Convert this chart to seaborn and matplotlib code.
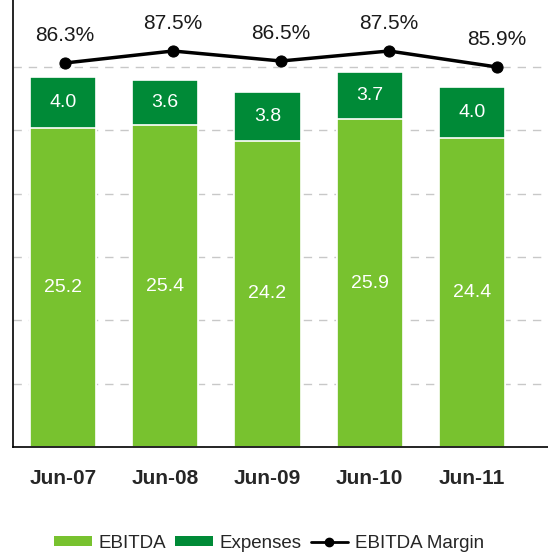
import numpy as np
import pandas as pd
import matplotlib
matplotlib.use("Agg")
import matplotlib.pyplot as plt
import seaborn as sns
from matplotlib.patches import Patch
from matplotlib.lines import Line2D

periods = ["Jun-07", "Jun-08", "Jun-09", "Jun-10", "Jun-11"]
ebitda = [25.2, 25.4, 24.2, 25.9, 24.4]
expenses = [4.0, 3.6, 3.8, 3.7, 4.0]
margin = [86.3, 87.5, 86.5, 87.5, 85.9]

light_green = "#78C22F"
dark_green = "#008A37"

sns.set_style("white")
plt.rcParams["font.family"] = ["Liberation Sans", "DejaVu Sans"]

df = pd.DataFrame({"period": periods, "ebitda": ebitda, "expenses": expenses})
df["total"] = df["ebitda"] + df["expenses"]

fig = plt.figure(figsize=(5.48, 5.57), dpi=100)
rect = [13 / 548, 1 - 447 / 557, 1 - 13 / 548, 447 / 557]
ax = fig.add_axes(rect)

# stacked bars: draw totals first, ebitda on top of them
sns.barplot(data=df, x="period", y="total", color=dark_green, width=0.65,
            edgecolor="white", linewidth=1.2, saturation=1, ax=ax)
sns.barplot(data=df, x="period", y="ebitda", color=light_green, width=0.65,
            edgecolor="white", linewidth=1.2, saturation=1, ax=ax)

ax.set_xlim(-0.489, 4.743)
ax.set_ylim(0, 35.3)
ax.set_yticks(np.arange(0, 31, 5))
ax.set_yticklabels([])
ax.yaxis.grid(True, linestyle=(0, (6, 5)), color="#c8c8c8", linewidth=1)
ax.set_axisbelow(True)
ax.set_xlabel("")
ax.set_ylabel("")
ax.tick_params(axis="both", length=0)
ax.tick_params(axis="x", pad=16, labelsize=15)
for lbl in ax.get_xticklabels():
    lbl.set_fontweight("bold")
for side in ["top", "right"]:
    ax.spines[side].set_visible(False)
for side in ["left", "bottom"]:
    ax.spines[side].set_color("black")
    ax.spines[side].set_linewidth(1.2)

# value labels inside bars
bars_total = ax.containers[0]
bars_ebitda = ax.containers[1]
for i, p in enumerate(bars_total.patches):
    x = p.get_x() + p.get_width() / 2
    ax.text(x, ebitda[i] + expenses[i] / 2, f"{expenses[i]:.1f}", ha="center",
            va="center", color="white", fontsize=14)
ax.bar_label(bars_ebitda, labels=[f"{v:.1f}" for v in ebitda], label_type="center",
             color="white", fontsize=14)

# margin line on its own overlay axes
ax2 = fig.add_axes(rect, frameon=False)
mdf = pd.DataFrame({"x": np.arange(len(periods)), "margin": margin})
sns.lineplot(data=mdf, x="x", y="margin", color="black", linewidth=2.5,
             marker="o", markersize=8, markeredgecolor="black", ax=ax2)
ax2.set_xlim(-0.481, 4.472)
ax2.set_ylim(47.9, 92.6)
ax2.set_xticks([])
ax2.set_yticks([])
ax2.set_xlabel("")
ax2.set_ylabel("")
for x, m in zip(mdf["x"], margin):
    ax2.annotate(f"{m:.1f}%", (x, m), xytext=(0, 20), textcoords="offset points",
                 ha="center", va="center", fontsize=15, color="#1a1a1a")

handles = [
    Patch(facecolor=light_green, edgecolor="none"),
    Patch(facecolor=dark_green, edgecolor="none"),
    Line2D([0], [0], color="black", linewidth=2, marker="o", markersize=6),
]
fig.legend(handles, ["EBITDA", "Expenses", "EBITDA Margin"], loc="center",
           bbox_to_anchor=(269 / 548, 1 - 543 / 557), ncol=3, frameon=False,
           fontsize=13.5, handlelength=2.0, handleheight=0.5, handletextpad=0.35,
           columnspacing=0.5)

fig.savefig("out.png", dpi=100)
